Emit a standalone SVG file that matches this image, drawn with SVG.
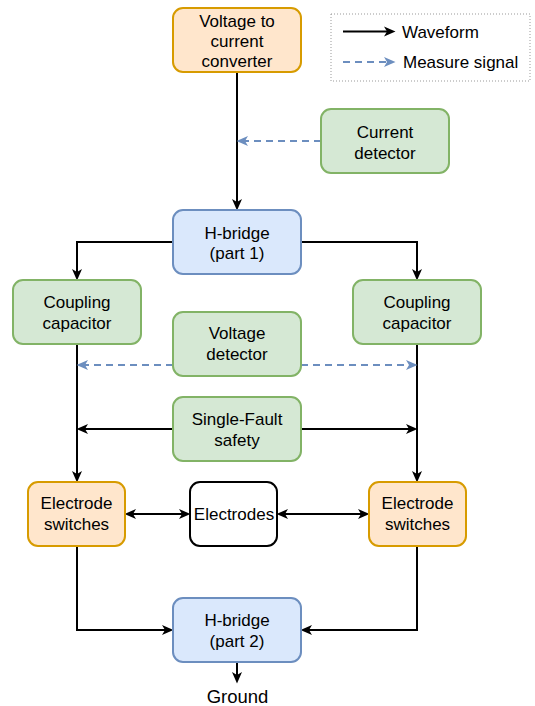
<svg xmlns="http://www.w3.org/2000/svg" width="535" height="706" viewBox="0 0 535 706">
<defs>
<style>
text{font-family:"Liberation Sans",Arial,sans-serif;font-size:17px;fill:#000;text-anchor:middle}
.n{stroke-width:2}
.or{fill:#ffe6cc;stroke:#d79b00}
.gr{fill:#d5e8d4;stroke:#82b366}
.bl{fill:#dae8fc;stroke:#6c8ebf}
.wh{fill:#fff;stroke:#000}
.w{fill:none;stroke:#000;stroke-width:2}
.m{fill:none;stroke:#6c8ebf;stroke-width:2;stroke-dasharray:7,5}
</style>
<marker id="ab" markerUnits="userSpaceOnUse" markerWidth="12" markerHeight="11" viewBox="0 0 12 11" refX="3" refY="5.5" orient="auto-start-reverse"><path d="M0,0.5 L11.5,5.5 L0,10.5 L3,5.5 z" fill="#000"/></marker>
<marker id="ae" markerUnits="userSpaceOnUse" markerWidth="12" markerHeight="11" viewBox="0 0 12 11" refX="3" refY="5.5" orient="auto-start-reverse"><path d="M0,0.5 L11.5,5.5 L0,10.5 L3,5.5 z" fill="#6c8ebf"/></marker>
</defs>
<g id="legend">
<rect x="331" y="14" width="199" height="67" fill="#fff" stroke="#999" stroke-width="1" stroke-dasharray="1,2"/>
<path class="w" d="M343,31.5 H387" marker-end="url(#ab)"/>
<path class="m" d="M343,62 H387" marker-end="url(#ae)"/>
<text x="402" y="37.5" style="text-anchor:start">Waveform</text>
<text x="403" y="68" style="text-anchor:start">Measure signal</text>
</g>
<g id="connectors">
<path class="w" d="M237,72 V202" marker-end="url(#ab)"/>
<path class="m" d="M321,141 H245" marker-end="url(#ae)"/>
<path class="w" d="M173,242 H77 V272" marker-end="url(#ab)"/>
<path class="w" d="M301,242 H417 V272" marker-end="url(#ab)"/>
<path class="w" d="M77,344 V474" marker-end="url(#ab)"/>
<path class="w" d="M417,344 V474" marker-end="url(#ab)"/>
<path class="m" d="M173,365 H85" marker-end="url(#ae)"/>
<path class="m" d="M301,365 H409" marker-end="url(#ae)"/>
<path class="w" d="M173,429 H85" marker-end="url(#ab)"/>
<path class="w" d="M301,429 H409" marker-end="url(#ab)"/>
<path class="w" d="M133,514 H182" marker-start="url(#ab)" marker-end="url(#ab)"/>
<path class="w" d="M285,514 H361" marker-start="url(#ab)" marker-end="url(#ab)"/>
<path class="w" d="M77,546 V630 H165" marker-end="url(#ab)"/>
<path class="w" d="M417,546 V630 H309" marker-end="url(#ab)"/>
<path class="w" d="M237,662 V675" marker-end="url(#ab)"/>
</g>
<g id="converter"><rect class="n or" x="173" y="8" width="128" height="64" rx="10"/>
<text x="237" y="26.5">Voltage to</text><text x="237" y="46.5">current</text><text x="237" y="66.5">converter</text></g>
<g id="current-detector"><rect class="n gr" x="321" y="109" width="128" height="64" rx="10"/>
<text x="385" y="138">Current</text><text x="385" y="158.5">detector</text></g>
<g id="hbridge1"><rect class="n bl" x="173" y="210" width="128" height="64" rx="10"/>
<text x="237" y="238.5">H-bridge</text><text x="237" y="259">(part 1)</text></g>
<g id="coupling-left"><rect class="n gr" x="13" y="280" width="128" height="64" rx="10"/>
<text x="77" y="308">Coupling</text><text x="77" y="329">capacitor</text></g>
<g id="coupling-right"><rect class="n gr" x="353" y="280" width="128" height="64" rx="10"/>
<text x="417" y="308">Coupling</text><text x="417" y="329">capacitor</text></g>
<g id="voltage-detector"><rect class="n gr" x="173" y="312" width="128" height="64" rx="10"/>
<text x="237" y="339">Voltage</text><text x="237" y="360">detector</text></g>
<g id="single-fault"><rect class="n gr" x="173" y="397" width="128" height="64" rx="10"/>
<text x="237" y="425">Single-Fault</text><text x="237" y="445.5">safety</text></g>
<g id="switches-left"><rect class="n or" x="28" y="482" width="97" height="64" rx="10"/>
<text x="76.5" y="509">Electrode</text><text x="76.5" y="530">switches</text></g>
<g id="electrodes"><rect class="n wh" x="190" y="482" width="87" height="64" rx="10"/>
<text x="234" y="520">Electrodes</text></g>
<g id="switches-right"><rect class="n or" x="369" y="482" width="97" height="64" rx="10"/>
<text x="417.5" y="509">Electrode</text><text x="417.5" y="530">switches</text></g>
<g id="hbridge2"><rect class="n bl" x="173" y="598" width="128" height="64" rx="10"/>
<text x="237" y="626">H-bridge</text><text x="237" y="647">(part 2)</text></g>
<g id="ground"><text x="237.5" y="703" style="font-size:18.5px">Ground</text></g>
</svg>
